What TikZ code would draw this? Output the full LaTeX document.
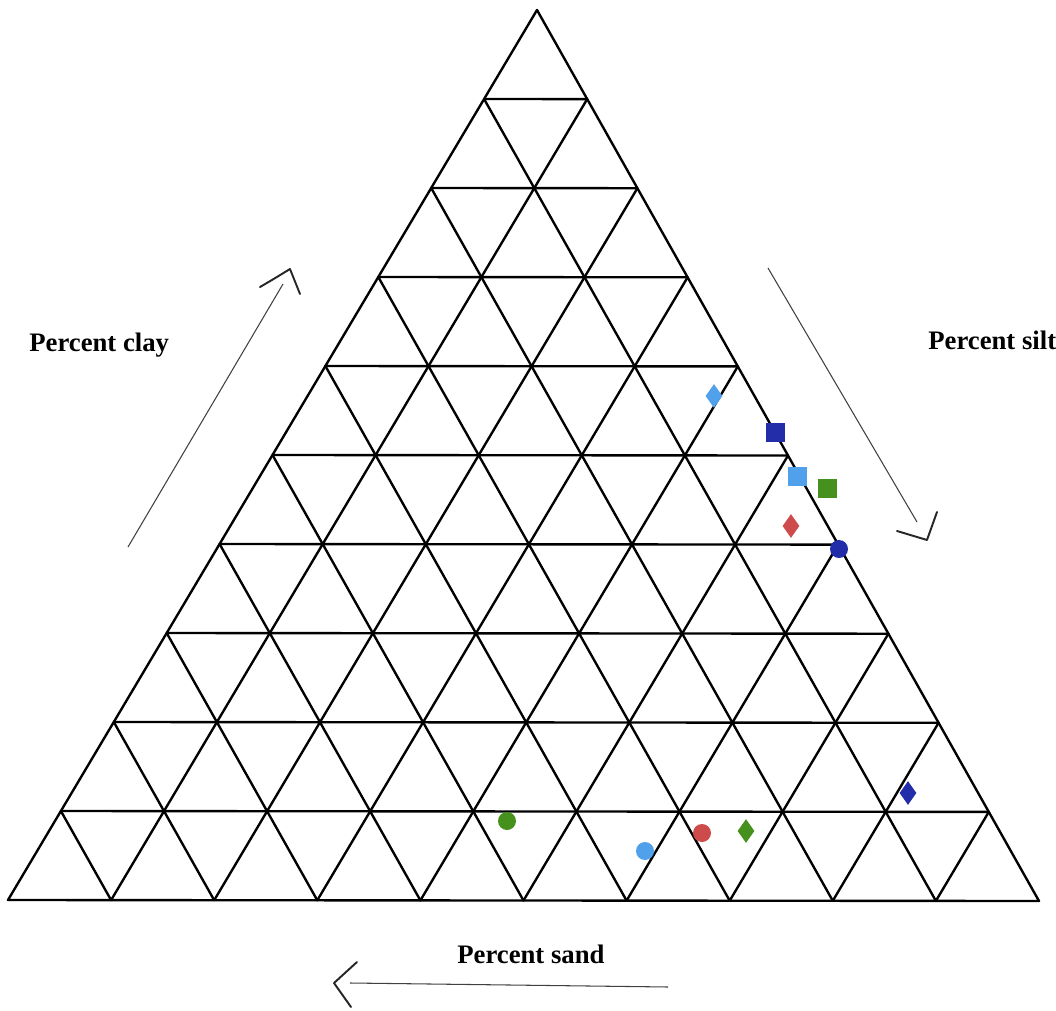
\documentclass[tikz,border=0pt]{standalone}
\usepackage{fontspec}
\setmainfont{Liberation Serif}
\usetikzlibrary{calc,shapes.geometric}
\definecolor{lblue}{RGB}{80,160,235}
\definecolor{dblue}{RGB}{35,45,170}
\definecolor{mgreen}{RGB}{70,145,30}
\definecolor{mred}{RGB}{205,75,75}
\tikzset{
  grid/.style={line width=1.35pt, black, line cap=round, line join=round},
  shaft/.style={line width=0.6pt, black!75},
  head/.style={line width=1.1pt, black!85, line cap=round, line join=round},
  lbl/.style={font=\fontsize{15.2}{18}\selectfont\bfseries, inner sep=0pt, anchor=base west},
  dot/.style={circle, fill=#1, draw=none, minimum size=0.36cm, inner sep=0pt},
  sq/.style={rectangle, fill=#1, draw=none, minimum size=0.38cm, inner sep=0pt},
  dia/.style={diamond, fill=#1, draw=none, minimum width=0.34cm, minimum height=0.48cm, inner sep=0pt},
}
\begin{document}
\begin{tikzpicture}[x=0.02cm,y=-0.02cm]
\useasboundingbox (0,0) rectangle (1056,1011);
\coordinate (A) at (8,900);
\coordinate (B) at (1039,901);
\coordinate (C) at (537,10);
% outer triangle
\draw[grid] (A) -- (B) -- (C) -- cycle;
% grid lines
\foreach \i in {1,...,9}{
  \pgfmathsetmacro{\s}{\i/10}
  \pgfmathsetmacro{\r}{1-\i/10}
  \coordinate (L\i) at ($(A)!\s!(C)$);
  \coordinate (R\i) at ($(B)!\s!(C)$);
  \coordinate (P\i) at ($(A)!\s!(B)$);
  \coordinate (Q\i) at ($(B)!\r!(C)$);
  \draw[grid] (L\i) -- (R\i);
  \draw[grid] (P\i) -- (Q\i);
  \draw[grid] (P\i) -- (L\i);
}
% markers
\node[dia=lblue] (m1) at (714,396) {};
\node[sq=dblue] (m2) at (775,432) {};
\node[sq=lblue] (m3) at (797,476) {};
\node[sq=mgreen] (m4) at (827,488) {};
\node[dia=mred] (m5) at (791,526) {};
\node[dot=dblue] (m6) at (839,549) {};
\node[dot=mgreen] (m7) at (507,821) {};
\node[dot=lblue] (m8) at (645,851) {};
\node[dot=mred] (m9) at (702,833) {};
\node[dia=mgreen] (m10) at (746,831) {};
\node[dia=dblue] (m11) at (908,793) {};
% labels
\node[lbl] (clay) at (29,351) {Percent clay};
\node[lbl] (silt) at (928,349) {Percent silt};
\node[lbl] (sand) at (457,963) {Percent sand};
% arrows
\coordinate (a1s) at (128,547);
\coordinate (a1e) at (283,284);
\coordinate (a1t) at (290,269);
\coordinate (a1w) at (260,287);
\coordinate (a1v) at (300,294);
\draw[shaft] (a1s) -- (a1e);
\draw[head] (a1w) .. controls (272,280) .. (a1t) -- (a1v);
\coordinate (a2s) at (768,268);
\coordinate (a2e) at (917,522);
\coordinate (a2t) at (927,540);
\coordinate (a2w) at (897,531);
\coordinate (a2v) at (937,512);
\draw[shaft] (a2s) -- (a2e);
\draw[head] (a2w) -- (a2t) -- (a2v);
\coordinate (a3s) at (668,987);
\coordinate (a3e) at (350,983);
\coordinate (a3t) at (334,983);
\coordinate (a3w) at (357,962);
\coordinate (a3v) at (351,1007);
\draw[shaft] (a3s) -- (a3e);
\draw[head] (a3w) -- (a3t) -- (a3v);
\end{tikzpicture}
\end{document}
